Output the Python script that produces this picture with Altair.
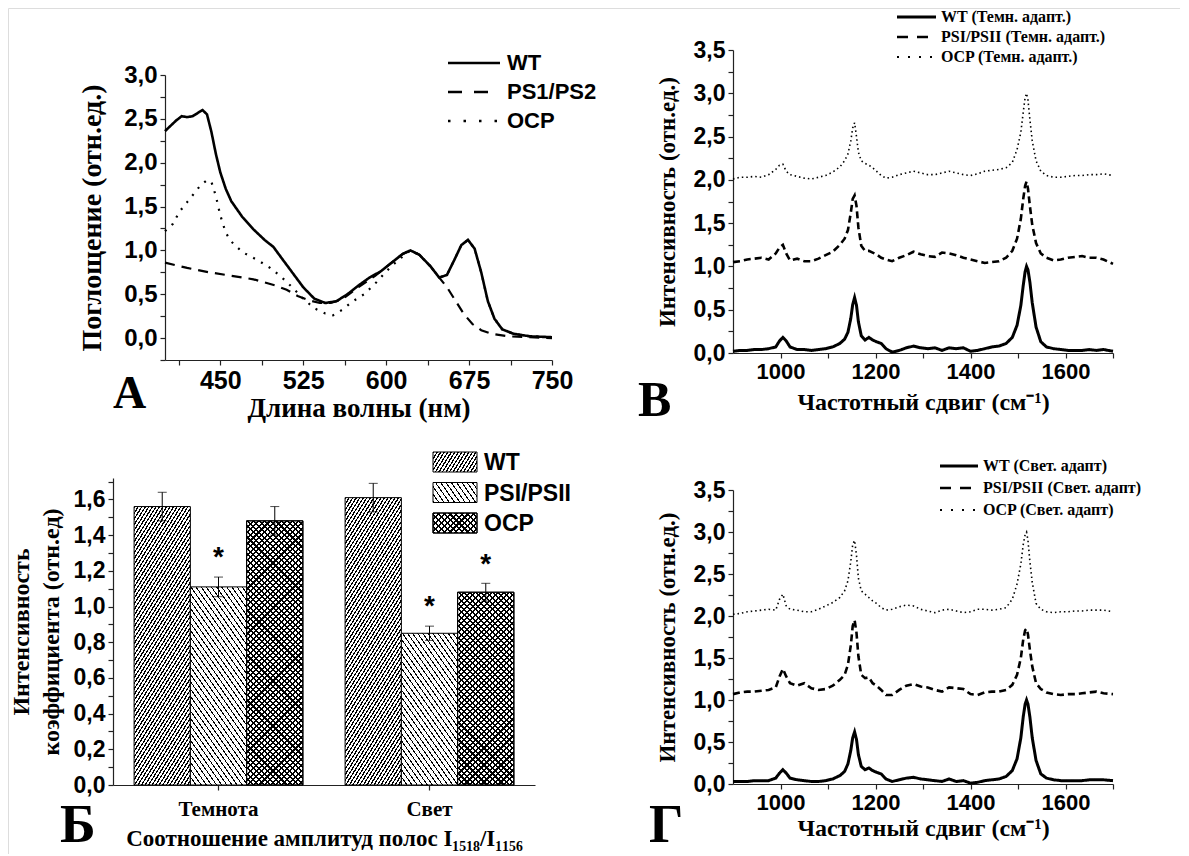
import math
import altair as alt
import pandas as pd

SANS = "Liberation Sans"
SERIF = "Liberation Serif"
W_TOTAL, H_TOTAL = 1172, 846

# ---------------- Panel A: absorption spectra ----------------
a_series = ["WT", "PS1/PS2", "OCP"]
a_wt_nm = [400, 405, 410, 415, 420, 425, 430, 434, 438, 442, 446, 450, 455, 460, 470, 480, 490, 498, 505, 515,
           525, 535, 545, 555, 565, 575, 585, 595, 605, 615, 622, 630, 640, 648, 655, 662, 668, 674, 680, 686,
           692, 698, 705, 715, 730, 750]
a_wt_abs = [2.36, 2.42, 2.48, 2.53, 2.52, 2.53, 2.57, 2.60, 2.55, 2.35, 2.10, 1.89, 1.70, 1.56, 1.38, 1.24, 1.12, 1.04, 0.92, 0.75,
            0.58, 0.45, 0.40, 0.42, 0.50, 0.60, 0.69, 0.76, 0.86, 0.96, 1.00, 0.95, 0.82, 0.69, 0.72, 0.90, 1.06, 1.12, 1.02, 0.75,
            0.42, 0.22, 0.10, 0.05, 0.02, 0.01]
a_ps_nm = [400, 420, 440, 460, 480, 500, 510, 520, 530, 540, 550, 560, 575, 590, 605, 615, 622, 630, 640, 648,
           655, 662, 670, 678, 686, 695, 710, 730, 750]
a_ps_abs = [0.86, 0.80, 0.75, 0.71, 0.67, 0.60, 0.55, 0.48, 0.43, 0.40, 0.40, 0.44, 0.58, 0.71, 0.86, 0.96, 1.00, 0.95, 0.82, 0.69,
            0.58, 0.44, 0.28, 0.16, 0.09, 0.05, 0.02, 0.01, 0.00]
a_ocp_nm = [400, 407, 413, 420, 427, 432, 438, 442, 446, 450, 455, 460, 470, 485, 495, 505, 515, 525, 535, 545,
            552, 560, 570, 580, 590, 600, 610, 622, 630, 640, 648, 655, 662, 668, 674, 680, 686, 692, 698, 705,
            715, 730, 750]
a_ocp_abs = [1.22, 1.30, 1.44, 1.55, 1.66, 1.74, 1.80, 1.78, 1.62, 1.40, 1.20, 1.10, 0.98, 0.88, 0.80, 0.70, 0.58, 0.45, 0.34, 0.28,
             0.26, 0.32, 0.42, 0.50, 0.62, 0.76, 0.88, 1.00, 0.95, 0.82, 0.69, 0.72, 0.90, 1.06, 1.12, 1.02, 0.75, 0.42, 0.22, 0.10,
             0.05, 0.02, 0.01]

# ---------------- Raman spectra (panels В and Г) ----------------
raman_x = [900, 915, 930, 945, 960, 975, 990, 998, 1005, 1012, 1020, 1035, 1050, 1065, 1080, 1095, 1110, 1125, 1135, 1142,
           1148, 1152, 1156, 1160, 1164, 1170, 1178, 1186, 1194, 1202, 1212, 1222, 1235, 1250, 1265, 1280, 1295, 1310, 1325, 1340,
           1355, 1370, 1385, 1400, 1415, 1430, 1445, 1460, 1475, 1488, 1498, 1506, 1511, 1515, 1518, 1521, 1525, 1530, 1538, 1548,
           1560, 1575, 1590, 1605, 1620, 1635, 1650, 1665, 1680, 1700]

b_series = ["WT (Темн. адапт.)", "PSI/PSII (Темн. адапт.)", "OCP (Темн. адапт.)"]
b_wt = [0.02, 0.03, 0.03, 0.04, 0.04, 0.05, 0.07, 0.14, 0.18, 0.14, 0.07, 0.04, 0.04, 0.03, 0.04, 0.05, 0.07, 0.11, 0.16, 0.24,
        0.40, 0.56, 0.64, 0.55, 0.36, 0.20, 0.15, 0.18, 0.15, 0.13, 0.11, 0.05, 0.01, 0.03, 0.06, 0.08, 0.06, 0.05, 0.06, 0.03,
        0.06, 0.05, 0.06, 0.02, 0.03, 0.05, 0.07, 0.08, 0.11, 0.18, 0.32, 0.55, 0.78, 0.94, 1.00, 0.96, 0.82, 0.58, 0.30, 0.13,
        0.07, 0.05, 0.04, 0.03, 0.03, 0.03, 0.04, 0.03, 0.04, 0.02]
b_psi = [1.05, 1.06, 1.08, 1.09, 1.10, 1.08, 1.15, 1.22, 1.25, 1.15, 1.07, 1.09, 1.06, 1.06, 1.09, 1.13, 1.17, 1.25, 1.32, 1.42,
         1.62, 1.78, 1.82, 1.70, 1.45, 1.24, 1.18, 1.18, 1.16, 1.14, 1.10, 1.08, 1.06, 1.10, 1.13, 1.17, 1.14, 1.12, 1.11, 1.16,
         1.15, 1.13, 1.10, 1.08, 1.06, 1.04, 1.05, 1.06, 1.10, 1.18, 1.32, 1.55, 1.78, 1.93, 1.98, 1.90, 1.70, 1.48, 1.27, 1.15,
         1.10, 1.07, 1.08, 1.10, 1.11, 1.12, 1.10, 1.10, 1.08, 1.03]
b_ocp = [2.01, 2.03, 2.03, 2.04, 2.03, 2.06, 2.12, 2.17, 2.18, 2.10, 2.06, 2.04, 2.02, 2.01, 2.03, 2.05, 2.09, 2.15, 2.22, 2.30,
         2.45, 2.60, 2.66, 2.50, 2.32, 2.22, 2.19, 2.17, 2.14, 2.10, 2.05, 2.02, 2.03, 2.06, 2.08, 2.10, 2.08, 2.06, 2.06, 2.08,
         2.10, 2.08, 2.06, 2.05, 2.07, 2.10, 2.11, 2.12, 2.14, 2.20, 2.35, 2.55, 2.78, 2.95, 3.00, 2.92, 2.70, 2.45, 2.22, 2.10,
         2.05, 2.03, 2.03, 2.04, 2.05, 2.05, 2.06, 2.06, 2.07, 2.05]

g_series = ["WT (Свет. адапт)", "PSI/PSII (Свет. адапт)", "OCP (Свет. адапт)"]
g_wt = [0.03, 0.03, 0.03, 0.04, 0.04, 0.04, 0.07, 0.13, 0.17, 0.13, 0.07, 0.05, 0.04, 0.03, 0.03, 0.04, 0.06, 0.10, 0.15, 0.24,
        0.40, 0.55, 0.62, 0.53, 0.35, 0.21, 0.17, 0.19, 0.16, 0.14, 0.12, 0.06, 0.03, 0.05, 0.07, 0.08, 0.06, 0.05, 0.04, 0.03,
        0.06, 0.03, 0.04, 0.01, 0.02, 0.04, 0.05, 0.06, 0.09, 0.16, 0.30, 0.55, 0.80, 0.95, 1.00, 0.95, 0.80, 0.55, 0.28, 0.12,
        0.07, 0.05, 0.04, 0.04, 0.04, 0.04, 0.05, 0.05, 0.05, 0.04]
g_psi = [1.07, 1.09, 1.10, 1.10, 1.11, 1.12, 1.15, 1.28, 1.37, 1.28, 1.20, 1.17, 1.20, 1.14, 1.12, 1.13, 1.17, 1.24, 1.30, 1.42,
         1.65, 1.88, 1.95, 1.80, 1.52, 1.30, 1.26, 1.27, 1.20, 1.17, 1.12, 1.06, 1.06, 1.12, 1.17, 1.19, 1.16, 1.15, 1.12, 1.10,
         1.15, 1.14, 1.13, 1.07, 1.06, 1.09, 1.10, 1.10, 1.12, 1.18, 1.30, 1.50, 1.72, 1.83, 1.85, 1.78, 1.60, 1.40, 1.20, 1.13,
         1.09, 1.07, 1.06, 1.07, 1.07, 1.08, 1.09, 1.10, 1.08, 1.07]
g_ocp = [2.02, 2.03, 2.05, 2.06, 2.07, 2.08, 2.07, 2.20, 2.26, 2.12, 2.08, 2.07, 2.05, 2.05, 2.08, 2.12, 2.16, 2.22, 2.30, 2.42,
         2.65, 2.85, 2.90, 2.72, 2.45, 2.30, 2.26, 2.22, 2.18, 2.15, 2.10, 2.07, 2.08, 2.11, 2.13, 2.12, 2.08, 2.06, 2.04, 2.07,
         2.08, 2.06, 2.04, 2.05, 2.08, 2.08, 2.07, 2.08, 2.10, 2.20, 2.38, 2.62, 2.85, 2.97, 3.00, 2.90, 2.65, 2.40, 2.15, 2.08,
         2.05, 2.04, 2.05, 2.05, 2.06, 2.06, 2.07, 2.07, 2.07, 2.05]

# ---------------- Panel Б: bar chart ----------------
bar_groups = ["Темнота", "Свет"]
bar_series = ["WT", "PSI/PSII", "OCP"]
bar_dark_vals = [1.56, 1.11, 1.48]
bar_light_vals = [1.61, 0.85, 1.08]
bar_dark_err = [0.08, 0.055, 0.08]
bar_light_err = [0.08, 0.04, 0.05]
bar_dark_star = [0, 1, 0]
bar_light_star = [0, 1, 1]

# ---------------- helpers ----------------
LBL_HALF = "round(datum.value*100) % 50 == 0 ? replace(format(datum.value, '.1f'), '.', ',') : ''"
LBL_FIFTH = "round(datum.value*10) % 2 == 0 ? replace(format(datum.value, '.1f'), '.', ',') : ''"


def make_axis(orient, offset, title, title_size, title_pad, label_size, values=None, label_expr=None,
              label_font=SANS, **kw):
    args = dict(orient=orient, offset=offset, title=title, titleFont=SERIF, titleFontWeight="bold",
                titleFontSize=title_size, titleColor="black", titlePadding=title_pad,
                labelFont=label_font, labelFontWeight="bold", labelFontSize=label_size, labelColor="black",
                domainColor="#222", tickColor="#222", domainWidth=1.2, tickWidth=1.2, tickSize=5,
                labelPadding=3, grid=False, labelFlush=False, labelOverlap=False)
    if values is not None:
        args["values"] = values
    if label_expr is not None:
        args["labelExpr"] = label_expr
    args.update(kw)
    return alt.Axis(**args)


def legend_rows(x0, x1, xt, y0, dy, names, dashes, widths, font, size):
    layers = []
    for i, name in enumerate(names):
        yy = y0 + i * dy
        layers.append(
            alt.Chart(pd.DataFrame({"lab": [name]})).mark_rule(
                color="black", strokeDash=dashes[i], strokeWidth=widths[i]
            ).encode(x=alt.value(x0), x2=alt.value(x1), y=alt.value(yy))
        )
        layers.append(
            alt.Chart(pd.DataFrame({"lab": [name]})).mark_text(
                align="left", baseline="middle", font=font, fontSize=size, fontWeight="bold", color="black"
            ).encode(x=alt.value(xt), y=alt.value(yy), text="lab:N")
        )
    return layers


def hatch(w, h, angle_deg, period, line_w, direction, bg="white"):
    th = math.radians(angle_deg)
    s, c = math.sin(th), math.cos(th)
    r = (h * c) / (w * s)
    a = (1 + r) / (1 + r * r)
    extent = w * s + h * c
    n = max(1, int(round(extent / period)))
    frac = min(0.9, line_w / period)
    stops = []
    for k in range(n):
        o0, o1, o2 = k / n, (k + frac) / n, (k + 1) / n
        stops += [{"offset": o0, "color": "black"}, {"offset": o1, "color": "black"},
                  {"offset": o1, "color": bg}, {"offset": o2, "color": bg}]
    if direction == "/":
        x1, y1, x2, y2 = 0, 0, a, r * a
    else:
        x1, y1, x2, y2 = 0, 1, a, 1 - r * a
    return {"gradient": "linear", "x1": x1, "y1": y1, "x2": x2, "y2": y2, "stops": stops}


HATCH = {
    "WT": [(58, 3.0, 1.2, "/", "white")],
    "PSI/PSII": [(55, 4.2, 1.0, "\\", "white")],
    "OCP": [(45, 4.0, 1.5, "/", "white"), (45, 4.0, 1.5, "\\", "transparent")],
}

# ---------------- Panel A chart ----------------
dfA = pd.concat([
    pd.DataFrame({"nm": a_wt_nm, "abs": a_wt_abs, "series": a_series[0]}),
    pd.DataFrame({"nm": a_ps_nm, "abs": a_ps_abs, "series": a_series[1]}),
    pd.DataFrame({"nm": a_ocp_nm, "abs": a_ocp_abs, "series": a_series[2]}),
])
ax_A_x = make_axis("bottom", 352 - H_TOTAL, "Длина волны (нм)", 27, 2, 25,
                   values=[412.5, 450, 487.5, 525, 562.5, 600, 637.5, 675, 712.5, 750],
                   label_expr="datum.value % 75 == 0 ? format(datum.value, 'd') : ''")
ax_A_y = make_axis("left", -157, "Поглощение (отн.ед.)", 28, 17, 24,
                   values=[-0.25 + 0.25 * i for i in range(14)], label_expr=LBL_HALF)
encA = dict(
    x=alt.X("nm:Q", scale=alt.Scale(domain=[400, 750], range=[157, 544], nice=False, zero=False), axis=ax_A_x),
    y=alt.Y("abs:Q", scale=alt.Scale(domain=[-0.25, 3.0], range=[352, 67], nice=False, zero=False), axis=ax_A_y),
)
styleA = {a_series[0]: ([1, 0], 2.6), a_series[1]: ([10, 7], 2.2), a_series[2]: ([2, 7], 2.2)}
panelA = alt.layer(*[
    alt.Chart(dfA).transform_filter(alt.datum.series == s).mark_line(
        color="black", strokeDash=styleA[s][0], strokeWidth=styleA[s][1]).encode(**encA)
    for s in a_series
])
legendA = legend_rows(440, 492, 499, 55, 29, a_series, [[1, 0], [14, 12], [2.5, 13]],
                      [2.6, 2.4, 2.4], SANS, 22)


# ---------------- Raman panels ----------------
def raman_panel(series, ys, y_top, y_bot, title_pad):
    df = pd.concat([pd.DataFrame({"shift": raman_x, "inten": ys[i], "series": series[i]}) for i in range(3)])
    ax_x = make_axis("bottom", y_bot - H_TOTAL, "Частотный сдвиг (см⁻¹)", 24, title_pad, 22,
                     values=[1000, 1100, 1200, 1300, 1400, 1500, 1600, 1700],
                     label_expr="datum.value % 200 == 0 ? format(datum.value, 'd') : ''")
    ax_y = make_axis("left", -725, "Интенсивность (отн.ед.)", 23, 14, 23,
                     values=[0.25 * i for i in range(15)], label_expr=LBL_HALF)
    enc = dict(
        x=alt.X("shift:Q", scale=alt.Scale(domain=[900, 1700], range=[725, 1105], nice=False, zero=False), axis=ax_x),
        y=alt.Y("inten:Q", scale=alt.Scale(domain=[0, 3.5], range=[y_bot, y_top], nice=False, zero=False), axis=ax_y),
    )
    styles = [([1, 0], 3.0), ([7, 4], 2.6), ([1.5, 3], 1.6)]
    return alt.layer(*[
        alt.Chart(df).transform_filter(alt.datum.series == series[i]).mark_line(
            color="black", strokeDash=styles[i][0], strokeWidth=styles[i][1]).encode(**enc)
        for i in range(3)
    ])


panelB = raman_panel(b_series, [b_wt, b_psi, b_ocp], 42, 345, 8)
panelG = raman_panel(g_series, [g_wt, g_psi, g_ocp], 482, 776, 3)
legR_dash = [[1, 0], [11, 9], [2, 9]]
legR_w = [3.0, 2.6, 2.2]
legendB = legend_rows(889, 928, 933, 9, 20, b_series, legR_dash, legR_w, SERIF, 16)
legendG = legend_rows(932, 970, 975, 458, 22, g_series, legR_dash, legR_w, SERIF, 16)

# ---------------- Panel Б chart ----------------
rows = []
for gi, g in enumerate(bar_groups):
    vals = bar_dark_vals if gi == 0 else bar_light_vals
    errs = bar_dark_err if gi == 0 else bar_light_err
    stars = bar_dark_star if gi == 0 else bar_light_star
    for si, s in enumerate(bar_series):
        rows.append({"group": g, "series": s, "value": vals[si], "err": errs[si], "star": stars[si]})
dfC = pd.DataFrame(rows)

C_X0, C_X1, C_Y0, C_Y1, C_YMAX = 105, 527, 777, 470, 1.72
ax_C_x = make_axis("bottom", C_Y0 - H_TOTAL, "Соотношение амплитуд полос I₁₅₁₈/I₁₁₅₆", 23, 8, 21,
                   label_font=SERIF, labelAngle=0, labelPadding=8)
ax_C_y = make_axis("left", -C_X0, ["Интенсивность", "коэффициента (отн.ед)"], 24, 10, 23,
                   values=[round(0.1 * i, 1) for i in range(18)], label_expr=LBL_FIFTH, titleLineHeight=30)
xC = alt.X("group:N", sort=bar_groups,
           scale=alt.Scale(domain=bar_groups, range=[C_X0, C_X1], paddingInner=0.2, paddingOuter=0.1),
           axis=ax_C_x)
xoC = alt.XOffset("series:N", scale=alt.Scale(domain=bar_series, paddingInner=0, paddingOuter=0))
scC = alt.Scale(domain=[0, C_YMAX], range=[C_Y0, C_Y1], nice=False, zero=True)


def yC(field):
    return alt.Y(field, scale=scC, axis=ax_C_y)


baseC = alt.Chart(dfC).transform_calculate(
    lo="datum.value - datum.err", hi="datum.value + datum.err", star_y="datum.value + datum.err + 0.15")

step = (C_X1 - C_X0) / (2 - 0.2 + 2 * 0.1)
bar_w = step * 0.8 / 3
px_per_unit = (C_Y0 - C_Y1) / C_YMAX
bar_layers = []
for r in rows:
    h = r["value"] * px_per_unit
    for (ang, per, lw, dr, bg) in HATCH[r["series"]]:
        bar_layers.append(
            baseC.transform_filter(
                (alt.datum.group == r["group"]) & (alt.datum.series == r["series"])
            ).mark_bar(fill=hatch(bar_w, h, ang, per, lw, dr, bg), stroke="black", strokeWidth=1)
            .encode(x=xC, xOffset=xoC, y=yC("value:Q"))
        )
err_rule = baseC.mark_rule(color="black", strokeWidth=1).encode(x=xC, xOffset=xoC, y=yC("lo:Q"), y2="hi:Q")
cap_hi = baseC.mark_tick(color="black", orient="horizontal", size=9, thickness=1).encode(x=xC, xOffset=xoC, y=yC("hi:Q"))
cap_lo = baseC.mark_tick(color="black", orient="horizontal", size=9, thickness=1).encode(x=xC, xOffset=xoC, y=yC("lo:Q"))
star_txt = baseC.transform_filter(alt.datum.star == 1).mark_text(
    text="*", font=SANS, fontWeight="bold", fontSize=28, baseline="alphabetic", dy=16, color="black"
).encode(x=xC, xOffset=xoC, y=yC("star_y:Q"))
panelC = alt.layer(*bar_layers, err_rule, cap_hi, cap_lo, star_txt)

# legend for Б
legendC = []
for i, s in enumerate(bar_series):
    y_top = 444 + i * 30.5
    for (ang, per, lw, dr, bg) in HATCH[s]:
        legendC.append(
            alt.Chart(pd.DataFrame({"lab": [s]})).mark_rect(
                fill=hatch(44, 20, ang, per, lw, dr, bg), stroke="black", strokeWidth=1
            ).encode(x=alt.value(425), x2=alt.value(469), y=alt.value(y_top), y2=alt.value(y_top + 20))
        )
    legendC.append(
        alt.Chart(pd.DataFrame({"lab": [s]})).mark_text(
            align="left", baseline="middle", font=SANS, fontSize=23, fontWeight="bold", color="black"
        ).encode(x=alt.value(476), y=alt.value(y_top + 11), text="lab:N")
    )

# ---------------- panel letters ----------------
panel_letters = ["А", "В", "Б", "Г"]
letter_pos = [(105, 400, 46), (630, 408, 50), (52, 834, 54), (641, 834, 54)]
letters = [
    alt.Chart(pd.DataFrame({"t": [panel_letters[i]]})).mark_text(
        align="left", baseline="alphabetic", font=SERIF, fontSize=letter_pos[i][2], fontWeight="bold", color="black"
    ).encode(x=alt.value(letter_pos[i][0]), y=alt.value(letter_pos[i][1]), text="t:N")
    for i in range(4)
]

chart = alt.layer(
    panelA, panelB, panelC, panelG, *legendA, *legendB, *legendG, *legendC, *letters
).resolve_scale(x="independent", y="independent").resolve_axis(x="independent", y="independent").properties(
    width=W_TOTAL, height=H_TOTAL, autosize=alt.AutoSizeParams(type="none"), padding=0
).configure_view(stroke=None).configure(background="white")

chart.save("out.html", embed_options={"renderer": "svg", "actions": False})
